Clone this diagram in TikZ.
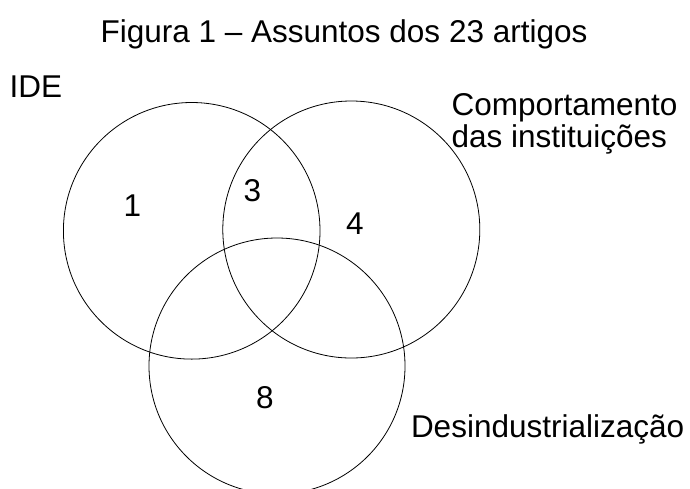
\documentclass[tikz,border=0pt]{standalone}
\usepackage{fontspec}
\setmainfont{Liberation Sans}
\begin{document}
\begin{tikzpicture}[x=1pt,y=-1pt,
  venn/.style={draw=black,line width=0.8pt,circle,inner sep=0pt,fill=none},
  lbl/.style={inner sep=0pt,outer sep=0pt,font=\fontsize{31.5}{36}\selectfont}]
\useasboundingbox (0,0) rectangle (690,488);
\node[venn,minimum size=256.6pt] (cide) at (191.7,230.8) {};
\node[venn,minimum size=257pt] (ccomp) at (351.3,229.5) {};
\node[venn,minimum size=256pt] (cdes) at (277,366) {};
\node[lbl,anchor=base] (title) at (344,42) {Figura 1 – Assuntos dos 23 artigos};
\node[lbl,anchor=base west] (ide) at (9.5,97.3) {IDE};
\node[lbl,anchor=base west] (comp1) at (451.5,115) {Comportamento};
\node[lbl,anchor=base west] (comp2) at (451.5,147) {das instituições};
\node[lbl,anchor=base west] (des) at (411,437) {Desindustrialização};
\node[lbl,anchor=base] (n1) at (132.5,216.5) {1};
\node[lbl,anchor=base] (n3) at (252.5,201.7) {3};
\node[lbl,anchor=base] (n4) at (355,234) {4};
\node[lbl,anchor=base] (n8) at (265,408) {8};
\end{tikzpicture}
\end{document}
